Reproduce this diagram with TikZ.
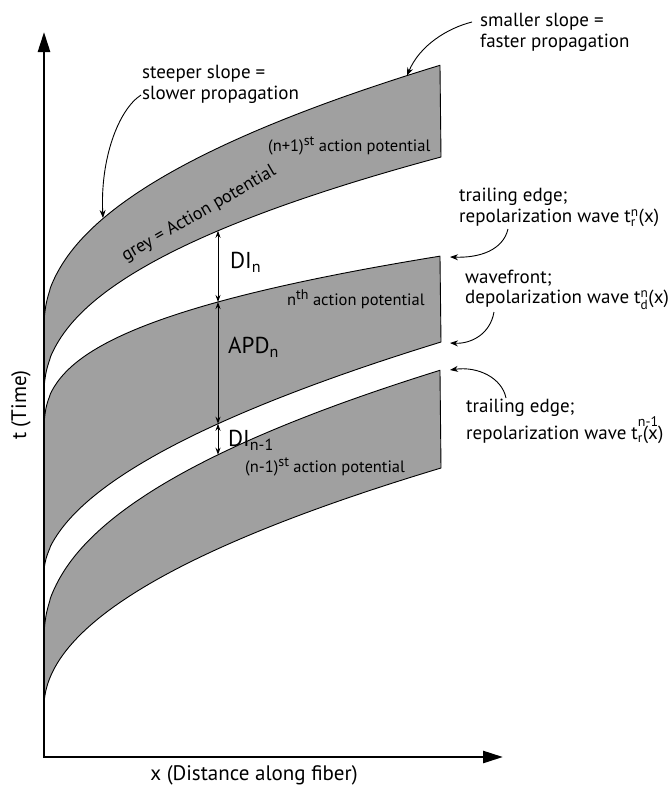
\documentclass[tikz,border=0pt]{standalone}
\usepackage{fontspec}
\usepackage{amsmath}
\setmainfont{PT Sans}
\usetikzlibrary{arrows.meta}
\definecolor{bandgray}{RGB}{160,160,160}
\tikzset{
  band/.style={fill=bandgray, draw=black, line width=0.9pt, line join=round},
  axisline/.style={line width=2.6pt, line join=miter,
    {Triangle[length=20pt,width=12pt]}-{Triangle[length=20pt,width=12pt]}},
  note/.style={line width=0.9pt, -{Stealth[length=8pt,width=6pt]}},
  dimline/.style={line width=0.9pt, {Stealth[length=7pt,width=5pt]}-{Stealth[length=7pt,width=5pt]}},
  lab/.style={font=\fontsize{19}{21}\selectfont, inner sep=0pt, anchor=west},
  small/.style={font=\fontsize{16.5}{18}\selectfont, inner sep=0pt, anchor=west},
  big/.style={font=\fontsize{23}{26}\selectfont, inner sep=0pt, anchor=west},
  axlab/.style={font=\fontsize{21}{24}\selectfont, inner sep=0pt},
  greylab/.style={font=\fontsize{18}{20}\selectfont, inner sep=0pt, rotate=30}
}
\newcommand\sps[1]{\raisebox{0.36em}{\fontsize{14}{15}\selectfont #1}}
\newcommand\hisup[1]{\rlap{\raisebox{0.72em}{\fontsize{14}{14}\selectfont #1}}}
\newcommand\apband[6]{%
  \filldraw[band] (44,#1)
    -- plot[domain=0.02:1,samples=120,variable=\q] ({44+397*\q*\q},{#1-(#1-#2)*(\q)^(2*#3)})
    -- (441,#5)
    -- plot[domain=1:0.02,samples=120,variable=\q] ({44+397*\q*\q},{#4-(#4-#5)*(\q)^(2*#6)})
    -- (44,#4) -- cycle;}
\begin{document}
\begin{tikzpicture}[x=1pt,y=-1pt]
\useasboundingbox (0,0) rectangle (670,785);
% bands
\apband{328}{65}{0.46}{395}{157}{0.45}
\apband{435}{256}{0.36}{573}{342}{0.53}
\apband{640}{370}{0.457}{707}{468}{0.5}
% axes
\coordinate (O) at (44,757);
\coordinate (ytop) at (44,32);
\coordinate (xend) at (503,757);
\draw[axisline] (ytop) -- (O) -- (xend);
\node[axlab, rotate=90] (tlab) at (21,405) {t (Time)};
\node[axlab] (xlab) at (254,775) {x (Distance along fiber)};
% dimension points at x=218
\coordinate (d1) at (218,{395-238*(174/397)^0.45});
\coordinate (d2) at (218,{435-179*(174/397)^0.36});
\coordinate (d3) at (218,{573-231*(174/397)^0.53});
\coordinate (d4) at (218,{640-270*(174/397)^0.457});
\draw[dimline] (d1) -- (d2);
\draw[dimline] (d2) -- (d3);
\draw[dimline] (d3) -- (d4);
\node[big] (DIn) at (230,262) {DI$_{\text{n}}$};
\node[big] (APDn) at (228,347) {APD$_{\text{n}}$};
\node[big] (DInm) at (228,440) {DI$_{\text{n-1}}$};
% band labels
\node[small] (ap1) at (268,146) {(n+1)\sps{st} action potential};
\node[small] (ap2) at (287,299) {n\sps{th} action potential};
\node[small] (ap3) at (245,467) {(n-1)\sps{st} action potential};
\node[greylab] (grey) at (199,214) {grey = Action potential};
% slope notes
\node[lab] (sm1) at (480,22) {smaller slope =};
\node[lab] (sm2) at (480,43) {faster propagation};
\node[lab] (st1) at (142,74) {steeper slope =};
\node[lab] (st2) at (142,95) {slower propagation};
\coordinate (tipA) at (407,{328-263*(363/397)^0.46});
\coordinate (tipB) at (103,{328-263*(59/397)^0.46});
\draw[note] ([xshift=-8pt]sm1.west) .. controls (448,28) and (420,45) .. (tipA);
\draw[note] ([xshift=-1pt]st2.west) .. controls (118,110) and (100,160) .. (tipB);
% right labels
\node[lab] (r1a) at (459,197) {trailing edge;};
\node[lab] (r1b) at (459,218) {repolarization wave t$^{\text{n}}_{\text{r}}$(x)};
\node[lab] (w1a) at (465,278) {wavefront;};
\node[lab] (w1b) at (465,300) {depolarization wave t$^{\text{n}}_{\text{d}}$(x)};
\node[lab] (r2a) at (466,408) {trailing edge;};
\node[lab] (r2b) at (466,430) {repolarization wave t\hisup{n-1}$_{\text{r}}$(x)};
\coordinate (tipC) at (450,257);
\coordinate (tipD) at (450,343);
\coordinate (tipE) at (450,370);
\draw[note] (508,229) .. controls (503,250) and (480,258) .. (tipC);
\draw[note] (494,312) .. controls (490,335) and (470,344) .. (tipD);
\draw[note] (506,398) .. controls (502,378) and (478,366) .. (tipE);
\end{tikzpicture}
\end{document}
